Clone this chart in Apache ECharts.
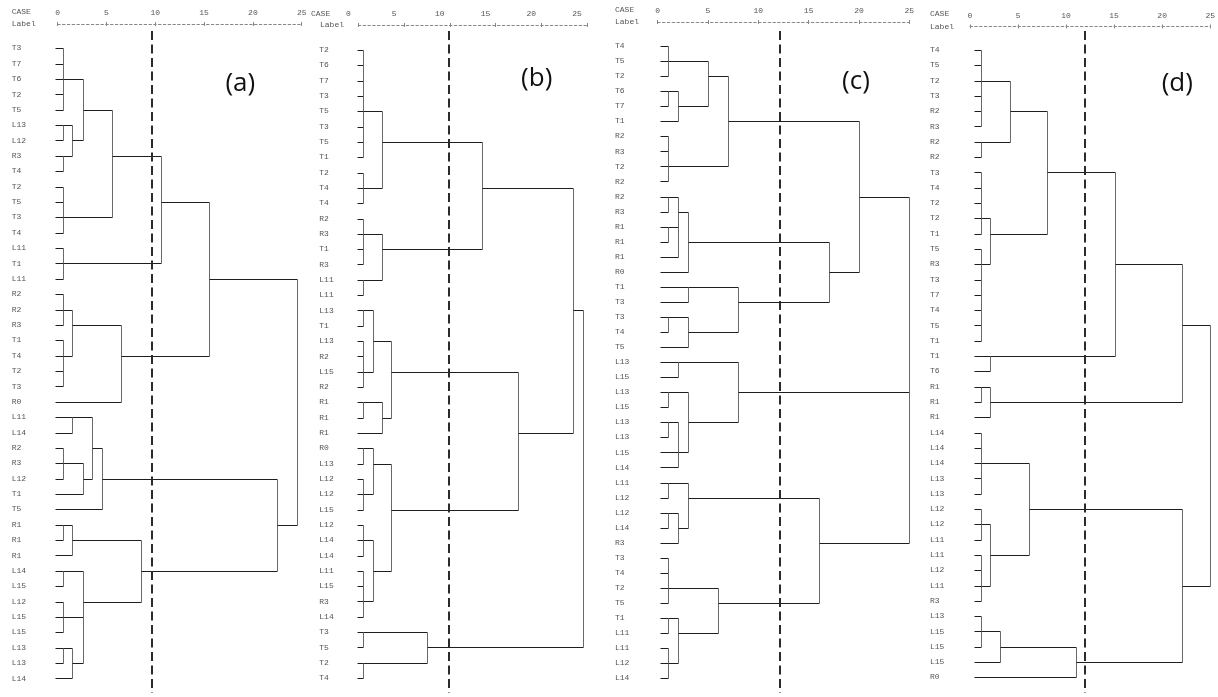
<!DOCTYPE html>
<html><head><meta charset="utf-8">
<script src="https://cdn.jsdelivr.net/npm/echarts@6/dist/echarts.min.js"></script>
<style>html,body{margin:0;padding:0;background:#fff}#c{width:1218px;height:697px}</style>
</head><body><div id="c"></div>
<script>
// ---------- DATA ----------
const axisTicks = [0, 5, 10, 15, 20, 25];

// merges: [height, row where the cluster's link leaves, [children]]
// children: number = leaf row, 'mK' = merge K
const aLabels = ['T3','T7','T6','T2','T5','L13','L12','R3','T4','T2','T5','T3','T4','L11','T1','L11','R2','R2','R3','T1','T4','T2','T3','R0','L11','L14','R2','R3','L12','T1','T5','R1','R1','R1','L14','L15','L12','L15','L15','L13','L13','L14'];
const aLeafStart = -0.27;
const aCut = 9.7;
const aMerges = [
  [0.58, 2, [0,1,2,3,4]],
  [0.58, 5, [5,6]],
  [0.58, 7, [7,8]],
  [1.5, 6, ['m1','m2']],
  [2.56, 4, ['m0','m3']],
  [0.58, 11, [9,10,11,12]],
  [5.53, 7, ['m4','m5']],
  [0.58, 14, [13,14,15]],
  [10.55, 10, ['m6','m7']],
  [0.58, 17, [16,17,18]],
  [0.58, 20, [19,20,21,22]],
  [1.5, 18, ['m9','m10']],
  [6.49, 20, ['m11',23]],
  [15.54, 15, ['m8','m12']],
  [1.5, 24, [24,25]],
  [0.58, 27, [26,27,28]],
  [2.56, 28, ['m15',29]],
  [3.48, 26, ['m14','m16']],
  [4.5, 28, ['m17',30]],
  [0.58, 31, [31,32]],
  [1.5, 32, ['m19',33]],
  [0.58, 34, [34,35]],
  [0.58, 37, [36,37,38]],
  [0.58, 39, [39,40]],
  [1.5, 40, ['m23',41]],
  [2.56, 36, ['m21','m22','m24']],
  [8.5, 34, ['m20','m25']],
  [22.44, 31, ['m18','m26']],
  [24.49, null, ['m13','m27']]
];

const bLabels = ['T2','T6','T7','T3','T5','T3','T5','T1','T2','T4','T4','R2','R3','T1','R3','L11','L11','L13','T1','L13','R2','L15','R2','R1','R1','R1','R0','L13','L12','L12','L15','L12','L14','L14','L11','L15','R3','L14','T3','T5','T2','T4'];
const bLeafStart = -0.18;
const bCut = 9.91;
const bMerges = [
  [0.55, 4, [0,1,2,3,4,5,6,7]],
  [0.55, 9, [8,9,10]],
  [2.55, 6, ['m0','m1']],
  [0.55, 12, [11,12,13,14]],
  [0.55, 15, [15,16]],
  [2.55, 13, ['m3','m4']],
  [13.48, 9, ['m2','m5']],
  [0.55, 17, [17,18]],
  [0.55, 21, [19,20,21,22]],
  [1.57, 19, ['m7','m8']],
  [0.55, 23, [23,24]],
  [2.55, 24, ['m10',25]],
  [3.53, 21, ['m9','m11']],
  [0.55, 26, [26,27]],
  [0.55, 29, [28,29,30]],
  [1.57, 27, ['m13','m14']],
  [0.55, 32, [31,32,33]],
  [0.55, 36, [34,35,36,37]],
  [1.57, 34, ['m16','m17']],
  [3.53, 30, ['m15','m18']],
  [17.49, 25, ['m12','m19']],
  [23.5, 17, ['m6','m20']],
  [0.55, 38, [38,39]],
  [0.55, 40, [40,41]],
  [7.47, 39, ['m22','m23']],
  [24.53, null, ['m21','m24']]
];

const cLabels = ['T4','T5','T2','T6','T7','T1','R2','R3','T2','R2','R2','R3','R1','R1','R1','R0','T1','T3','T3','T4','T5','L13','L15','L13','L15','L13','L13','L15','L14','L11','L12','L12','L14','R3','T3','T4','T2','T5','T1','L11','L11','L12','L14'];
const cLeafStart = 0.23;
const cCut = 12.2;
const cMerges = [
  [0.99, 1, [0,1,2]],
  [0.99, 3, [3,4]],
  [1.99, 4, ['m1',5]],
  [4.97, 2, ['m0','m2']],
  [0.99, 8, [6,7,8,9]],
  [7.02, 5, ['m3','m4']],
  [0.99, 10, [10,11]],
  [0.99, 12, [12,13]],
  [1.99, 11, ['m6','m7',14]],
  [2.98, 13, ['m8',15]],
  [2.98, 16, [16,17]],
  [0.99, 18, [18,19]],
  [2.98, 19, ['m11',20]],
  [8.01, 17, ['m10','m12']],
  [17.02, 15, ['m9','m13']],
  [20.03, 10, ['m5','m14']],
  [1.99, 21, [21,22]],
  [0.99, 23, [23,24]],
  [0.99, 25, [25,26]],
  [1.99, 27, ['m18',27,28]],
  [2.98, 25, ['m17','m19']],
  [8.01, 23, ['m16','m20']],
  [0.99, 29, [29,30]],
  [0.99, 31, [31,32]],
  [1.99, 32, ['m23',33]],
  [2.98, 30, ['m22','m24']],
  [0.99, 36, [34,35,36,37]],
  [0.99, 38, [38,39]],
  [0.99, 41, [40,41,42]],
  [1.99, 39, ['m27','m28']],
  [6.03, 37, ['m26','m29']],
  [16.03, 33, ['m25','m30']],
  [25, null, ['m15','m21','m31']]
];

const dLabels = ['T4','T5','T2','T3','R2','R3','R2','R2','T3','T4','T2','T2','T1','T5','R3','T3','T7','T4','T5','T1','T1','T6','R1','R1','R1','L14','L14','L14','L13','L13','L12','L12','L11','L11','L12','L11','R3','L13','L15','L15','L15','R0'];
const dLeafStart = 0.4;
const dCut = 11.96;
const dMerges = [
  [1.19, 2, [0,1,2,3,4,5]],
  [1.19, 6, [6,7]],
  [4.17, 4, ['m0','m1']],
  [1.19, 11, [8,9,10,11,12]],
  [1.19, 14, [13,14,15,16,17,18,19]],
  [2.13, 12, ['m3','m4']],
  [8.06, 8, ['m2','m5']],
  [2.13, 20, [20,21]],
  [15.11, 14, ['m6','m7']],
  [1.19, 22, [22,23]],
  [2.13, 23, ['m9',24]],
  [22.02, 18, ['m8','m10']],
  [1.19, 27, [25,26,27,28,29]],
  [1.19, 31, [30,31,32]],
  [1.19, 35, [33,34,35,36]],
  [2.13, 33, ['m13','m14']],
  [6.1, 30, ['m12','m15']],
  [1.19, 38, [37,38,39]],
  [3.15, 39, ['m17',40]],
  [11.08, 40, ['m18',41]],
  [22.02, 35, ['m16','m19']],
  [25, null, ['m11','m20']]
];

const panelTags = ['(a)', '(b)', '(c)', '(d)'];

// ---------- LAYOUT (pixels / styles) ----------
const layout = [
  {left:57.7, width:244, top:40.6, height:645.5, axisY:24, labMargin:46, numShift:0,
   caseX:11.7, caseY:12.3, lblX:11.7, lblY:24, tagX:240.3, tagY:83.3},
  {left:358.3, width:228.7, top:42.34, height:643.4, axisY:25, labMargin:39, numShift:10,
   caseX:311, caseY:14, lblX:320, lblY:25, tagX:536.7, tagY:78.3},
  {left:657.7, width:251.6, top:38.5, height:647.2, axisY:22, labMargin:42.7, numShift:0,
   caseX:615, caseY:10, lblX:615, lblY:22, tagX:856, tagY:81.7},
  {left:970, width:246, top:42.35, height:642.6, axisY:26.5, labMargin:40, numShift:0,
   caseX:930, caseY:14, lblX:930, lblY:26.5, tagX:1177.3, tagY:83.3}
];
const cutTop = 31, cutBottom = 693;
const MONO = '"Liberation Mono", "DejaVu Sans Mono", monospace';
const TXT = '#555';

// ---------- BUILD ----------
function buildSegments(leafStart, merges) {
  const segs = [];
  merges.forEach(m => {
    const h = m[0];
    const rows = [];
    m[2].forEach(k => {
      let ch, cr;
      if (typeof k === 'number') { ch = leafStart; cr = k; }
      else { const j = +k.slice(1); ch = merges[j][0]; cr = merges[j][1]; }
      rows.push(cr);
      segs.push([ch, cr, h, cr, 0]);
    });
    segs.push([h, Math.min(...rows), h, Math.max(...rows), 1]);
  });
  return segs;
}

const panels = [
  {labels:aLabels, merges:aMerges, leaf:aLeafStart, cut:aCut},
  {labels:bLabels, merges:bMerges, leaf:bLeafStart, cut:bCut},
  {labels:cLabels, merges:cMerges, leaf:cLeafStart, cut:cCut},
  {labels:dLabels, merges:dMerges, leaf:dLeafStart, cut:dCut}
];

const grid = [], xAxis = [], yAxis = [], series = [], graphic = [];
panels.forEach((p, i) => {
  const L = layout[i];
  grid.push({left:L.left, top:L.top, width:L.width, height:L.height, containLabel:false});
  const off = L.top - L.axisY;
  xAxis.push({
    gridIndex:i, type:'value', min:axisTicks[0], max:axisTicks[axisTicks.length-1], interval:5,
    position:'top', offset:off,
    axisLine:{show:true, lineStyle:{color:'#888', width:1, type:[2.5,2.3]}},
    axisTick:{show:true, length:2, lineStyle:{color:'#888'}},
    axisLabel:{show:true, fontFamily:MONO, fontSize:8, color:TXT, margin:7,
      padding:[0, L.numShift*2, 0, 0],
      formatter: v => axisTicks.indexOf(v) >= 0 ? String(v) : ''},
    splitLine:{show:false}
  });
  xAxis.push({
    gridIndex:i, type:'value', min:axisTicks[0], max:axisTicks[axisTicks.length-1], interval:5,
    position:'top', offset:off,
    axisLine:{show:false},
    axisTick:{show:true, inside:true, length:2, lineStyle:{color:'#888'}},
    axisLabel:{show:false}, splitLine:{show:false}
  });
  yAxis.push({
    gridIndex:i, type:'category', data:p.labels, inverse:true,
    axisLine:{show:false}, axisTick:{show:false}, splitLine:{show:false},
    axisLabel:{show:true, interval:0, align:'left', margin:L.labMargin,
      fontFamily:MONO, fontSize:8, color:TXT}
  });
  series.push({
    type:'custom', xAxisIndex:i*2, yAxisIndex:i, clip:false, silent:true,
    encode:{x:[0,2], y:[1,3]},
    data: buildSegments(p.leaf, p.merges),
    renderItem: (params, api) => {
      const a = api.coord([api.value(0), api.value(1)]);
      const b = api.coord([api.value(2), api.value(3)]);
      const vert = api.value(4) === 1;
      const x1 = Math.round(a[0]) + 0.5, x2 = Math.round(b[0]) + 0.5;
      const y1 = Math.round(a[1]) + 0.5, y2 = Math.round(b[1]) + 0.5;
      return {type:'line', shape:{x1, y1, x2, y2},
        style:{stroke: vert ? '#6a6a6a' : '#1e1e1e', lineWidth:1}};
    }
  });
  series.push({
    type:'custom', xAxisIndex:i*2, yAxisIndex:i, clip:false, silent:true,
    encode:{x:0, y:1},
    data: [[p.cut, 0]],
    renderItem: (params, api) => {
      const a = api.coord([api.value(0), 0]);
      const x = Math.round(a[0]);
      return {type:'line', shape:{x1:x, y1:cutTop, x2:x, y2:cutBottom},
        style:{stroke:'#2b2b2b', lineWidth:2, lineDash:[9,4.5]}};
    }
  });
  graphic.push({type:'text', x:L.caseX, y:L.caseY,
    style:{text:'CASE', font:'8px ' + MONO, fill:TXT, textVerticalAlign:'middle'}});
  graphic.push({type:'text', x:L.lblX, y:L.lblY,
    style:{text:'Label', font:'8px ' + MONO, fill:TXT, textVerticalAlign:'middle'}});
  graphic.push({type:'text', x:L.tagX, y:L.tagY,
    style:{text:panelTags[i], font:'26px "Open Sans", Lato, sans-serif', fill:'#111',
      textAlign:'center', textVerticalAlign:'middle'}});
});

const chart = echarts.init(document.getElementById('c'), null, {renderer:'canvas'});
chart.setOption({
  backgroundColor:'#fff', animation:false,
  grid, xAxis, yAxis, series, graphic
});
</script>
</body></html>
